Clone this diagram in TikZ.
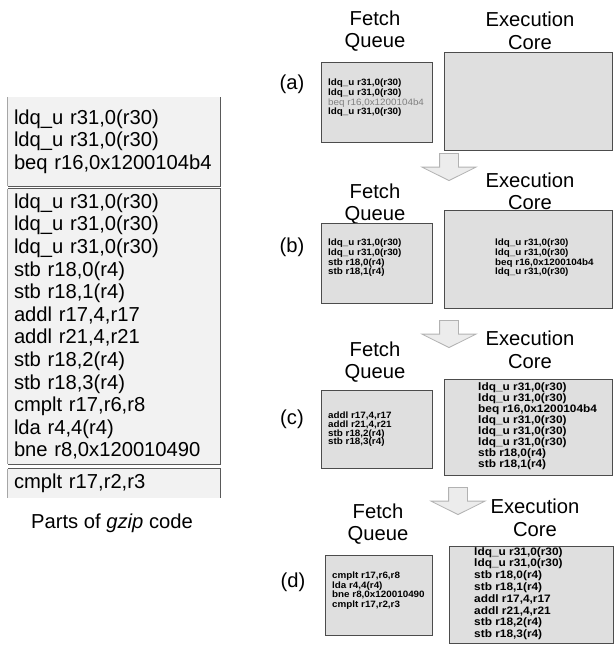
\documentclass[tikz,border=0pt]{standalone}
\usepackage{fontspec}
\setmainfont{Liberation Sans}
\newfontfamily\insfont[FakeStretch=1.07, BoldFeatures={FakeStretch=1.07}]{Liberation Sans}
\newfontfamily\wideinsfont[FakeStretch=1.1, BoldFeatures={FakeStretch=1.1}]{Liberation Sans}
\usetikzlibrary{shapes.arrows}

\begin{document}
\begin{tikzpicture}[
  x=1pt, y=-1pt,
  codebox/.style={rectangle, fill=gray!10, minimum width=212pt, inner sep=0pt, text width=200pt, align=left, font=\fontsize{20.2}{22.6}\selectfont},
  blockline/.style={draw=black!65, line width=1pt},
  lightline/.style={draw=black!35, line width=1pt},
  title/.style={align=center, font=\fontsize{20.2}{22.5}\selectfont},
  unitbox/.style={rectangle, draw=black!70, fill=gray!25, line width=0.8pt, inner sep=0pt},
  smallins/.style={inner sep=0pt, align=left, font=\insfont\bfseries\fontsize{9.2}{7.9}\selectfont},
  largeins/.style={inner sep=0pt, align=left, font=\wideinsfont\bfseries\fontsize{10.8}{11.1}\selectfont},
  flow/.style={single arrow, draw=gray!60, fill=gray!15, line width=0.8pt, rotate=-90, minimum height=27pt, minimum width=53pt, inner xsep=0pt, inner ysep=9pt, single arrow head extend=17.5pt, single arrow tip angle=127, anchor=tip},
]
\useasboundingbox (0,0) rectangle (614,646);

% gzip code on the left
\node[codebox, minimum height=89pt] (blka) at (114,141.5) {ldq\_u r31,0(r30)\\ ldq\_u r31,0(r30)\\ beq r16,0x1200104b4};
\node[codebox, minimum height=275pt] (blkb) at (114,326.5) {ldq\_u r31,0(r30)\\ ldq\_u r31,0(r30)\\ ldq\_u r31,0(r30)\\ stb r18,0(r4)\\ stb r18,1(r4)\\ addl r17,4,r17\\ addl r21,4,r21\\ stb r18,2(r4)\\ stb r18,3(r4)\\ cmplt r17,r6,r8\\ lda r4,4(r4)\\ bne r8,0x120010490};
\node[codebox, minimum height=29pt] (blkc) at (114,483.5) {cmplt r17,r2,r3};
\draw[lightline] (blka.north west) -- (blka.south west);
\draw[blockline] (blka.south west) -- (blka.south east) -- (blka.north east);
\draw[lightline] (blkb.north west) -- (blkb.south west);
\draw[blockline] (blkb.north west) -- (blkb.north east) -- (blkb.south east) -- (blkb.south west);
\draw[lightline] (blkc.north west) -- (blkc.south west);
\draw[blockline] (blkc.north west) -- (blkc.north east) -- (blkc.south east);
\node[font=\fontsize{20.2}{24}\selectfont] (capt) at (112,523) {Parts of \textit{gzip} code};

% (a)
\node[title] (fqta) at (375,31) {Fetch\\Queue};
\node[title] (ecta) at (530,31) {Execution\\Core};
\node[title] (la) at (292,84) {(a)};
\node[unitbox, minimum width=111pt, minimum height=80pt] (fqa) at (376.5,102) {};
\node[unitbox, minimum width=168pt, minimum height=98pt] (eca) at (528,101) {};
\node[smallins, anchor=north west] (fqia) at (328,79) {ldq\_u r31,0(r30)\\ ldq\_u r31,0(r30)\\ \textcolor{black!50}{\mdseries beq r16,0x1200104b4}\\ ldq\_u r31,0(r30)};
\node[flow] (arra) at (449,181) {};

% (b)
\node[title] (fqtb) at (375,204) {Fetch\\Queue};
\node[title] (ectb) at (530,191.5) {Execution\\Core};
\node[title] (lb) at (292,247) {(b)};
\node[unitbox, minimum width=111pt, minimum height=80pt] (fqb) at (376.5,263) {};
\node[unitbox, minimum width=168pt, minimum height=98pt] (ecb) at (528,259) {};
\node[smallins, anchor=north west] (fqib) at (328,239) {ldq\_u r31,0(r30)\\ ldq\_u r31,0(r30)\\ stb r18,0(r4)\\ stb r18,1(r4)};
\node[smallins, anchor=north west] (ecib) at (495,239) {ldq\_u r31,0(r30)\\ ldq\_u r31,0(r30)\\ beq r16,0x1200104b4\\ ldq\_u r31,0(r30)};
\node[flow] (arrb) at (449,348) {};

% (c)
\node[title] (fqtc) at (375,362) {Fetch\\Queue};
\node[title] (ectc) at (530,350) {Execution\\Core};
\node[title] (lc) at (292,419) {(c)};
\node[unitbox, minimum width=111pt, minimum height=78pt] (fqc) at (376.5,429) {};
\node[unitbox, minimum width=168pt, minimum height=96pt] (ecc) at (528,427) {};
\node[smallins, anchor=north west, font=\insfont\bfseries\fontsize{9.2}{8.6}\selectfont] (fqic) at (328,412) {addl r17,4,r17\\ addl r21,4,r21\\ stb r18,2(r4)\\ stb r18,3(r4)};
\node[largeins, anchor=north west] (ecic) at (478,382) {ldq\_u r31,0(r30)\\ ldq\_u r31,0(r30)\\ beq r16,0x1200104b4\\ ldq\_u r31,0(r30)\\ ldq\_u r31,0(r30)\\ ldq\_u r31,0(r30)\\ stb r18,0(r4)\\ stb r18,1(r4)};
\node[flow] (arrc) at (458,515) {};

% (d)
\node[title] (fqtd) at (378,524) {Fetch\\Queue};
\node[title] (ectd) at (535,518) {Execution\\Core};
\node[title] (ld) at (293,582) {(d)};
\node[unitbox, minimum width=107pt, minimum height=80pt] (fqd) at (378.5,595) {};
\node[unitbox, minimum width=164pt, minimum height=97pt] (ecd) at (531,594.5) {};
\node[smallins, anchor=north west, font=\insfont\bfseries\fontsize{9.2}{9.5}\selectfont] (fqid) at (332,572) {cmplt r17,r6,r8\\ lda r4,4(r4)\\ bne r8,0x120010490\\ cmplt r17,r2,r3};
\node[largeins, anchor=north west, font=\wideinsfont\bfseries\fontsize{10.8}{11.8}\selectfont] (ecid) at (474,547) {ldq\_u r31,0(r30)\\ ldq\_u r31,0(r30)\\ stb r18,0(r4)\\ stb r18,1(r4)\\ addl r17,4,r17\\ addl r21,4,r21\\ stb r18,2(r4)\\ stb r18,3(r4)};

\end{tikzpicture}
\end{document}
